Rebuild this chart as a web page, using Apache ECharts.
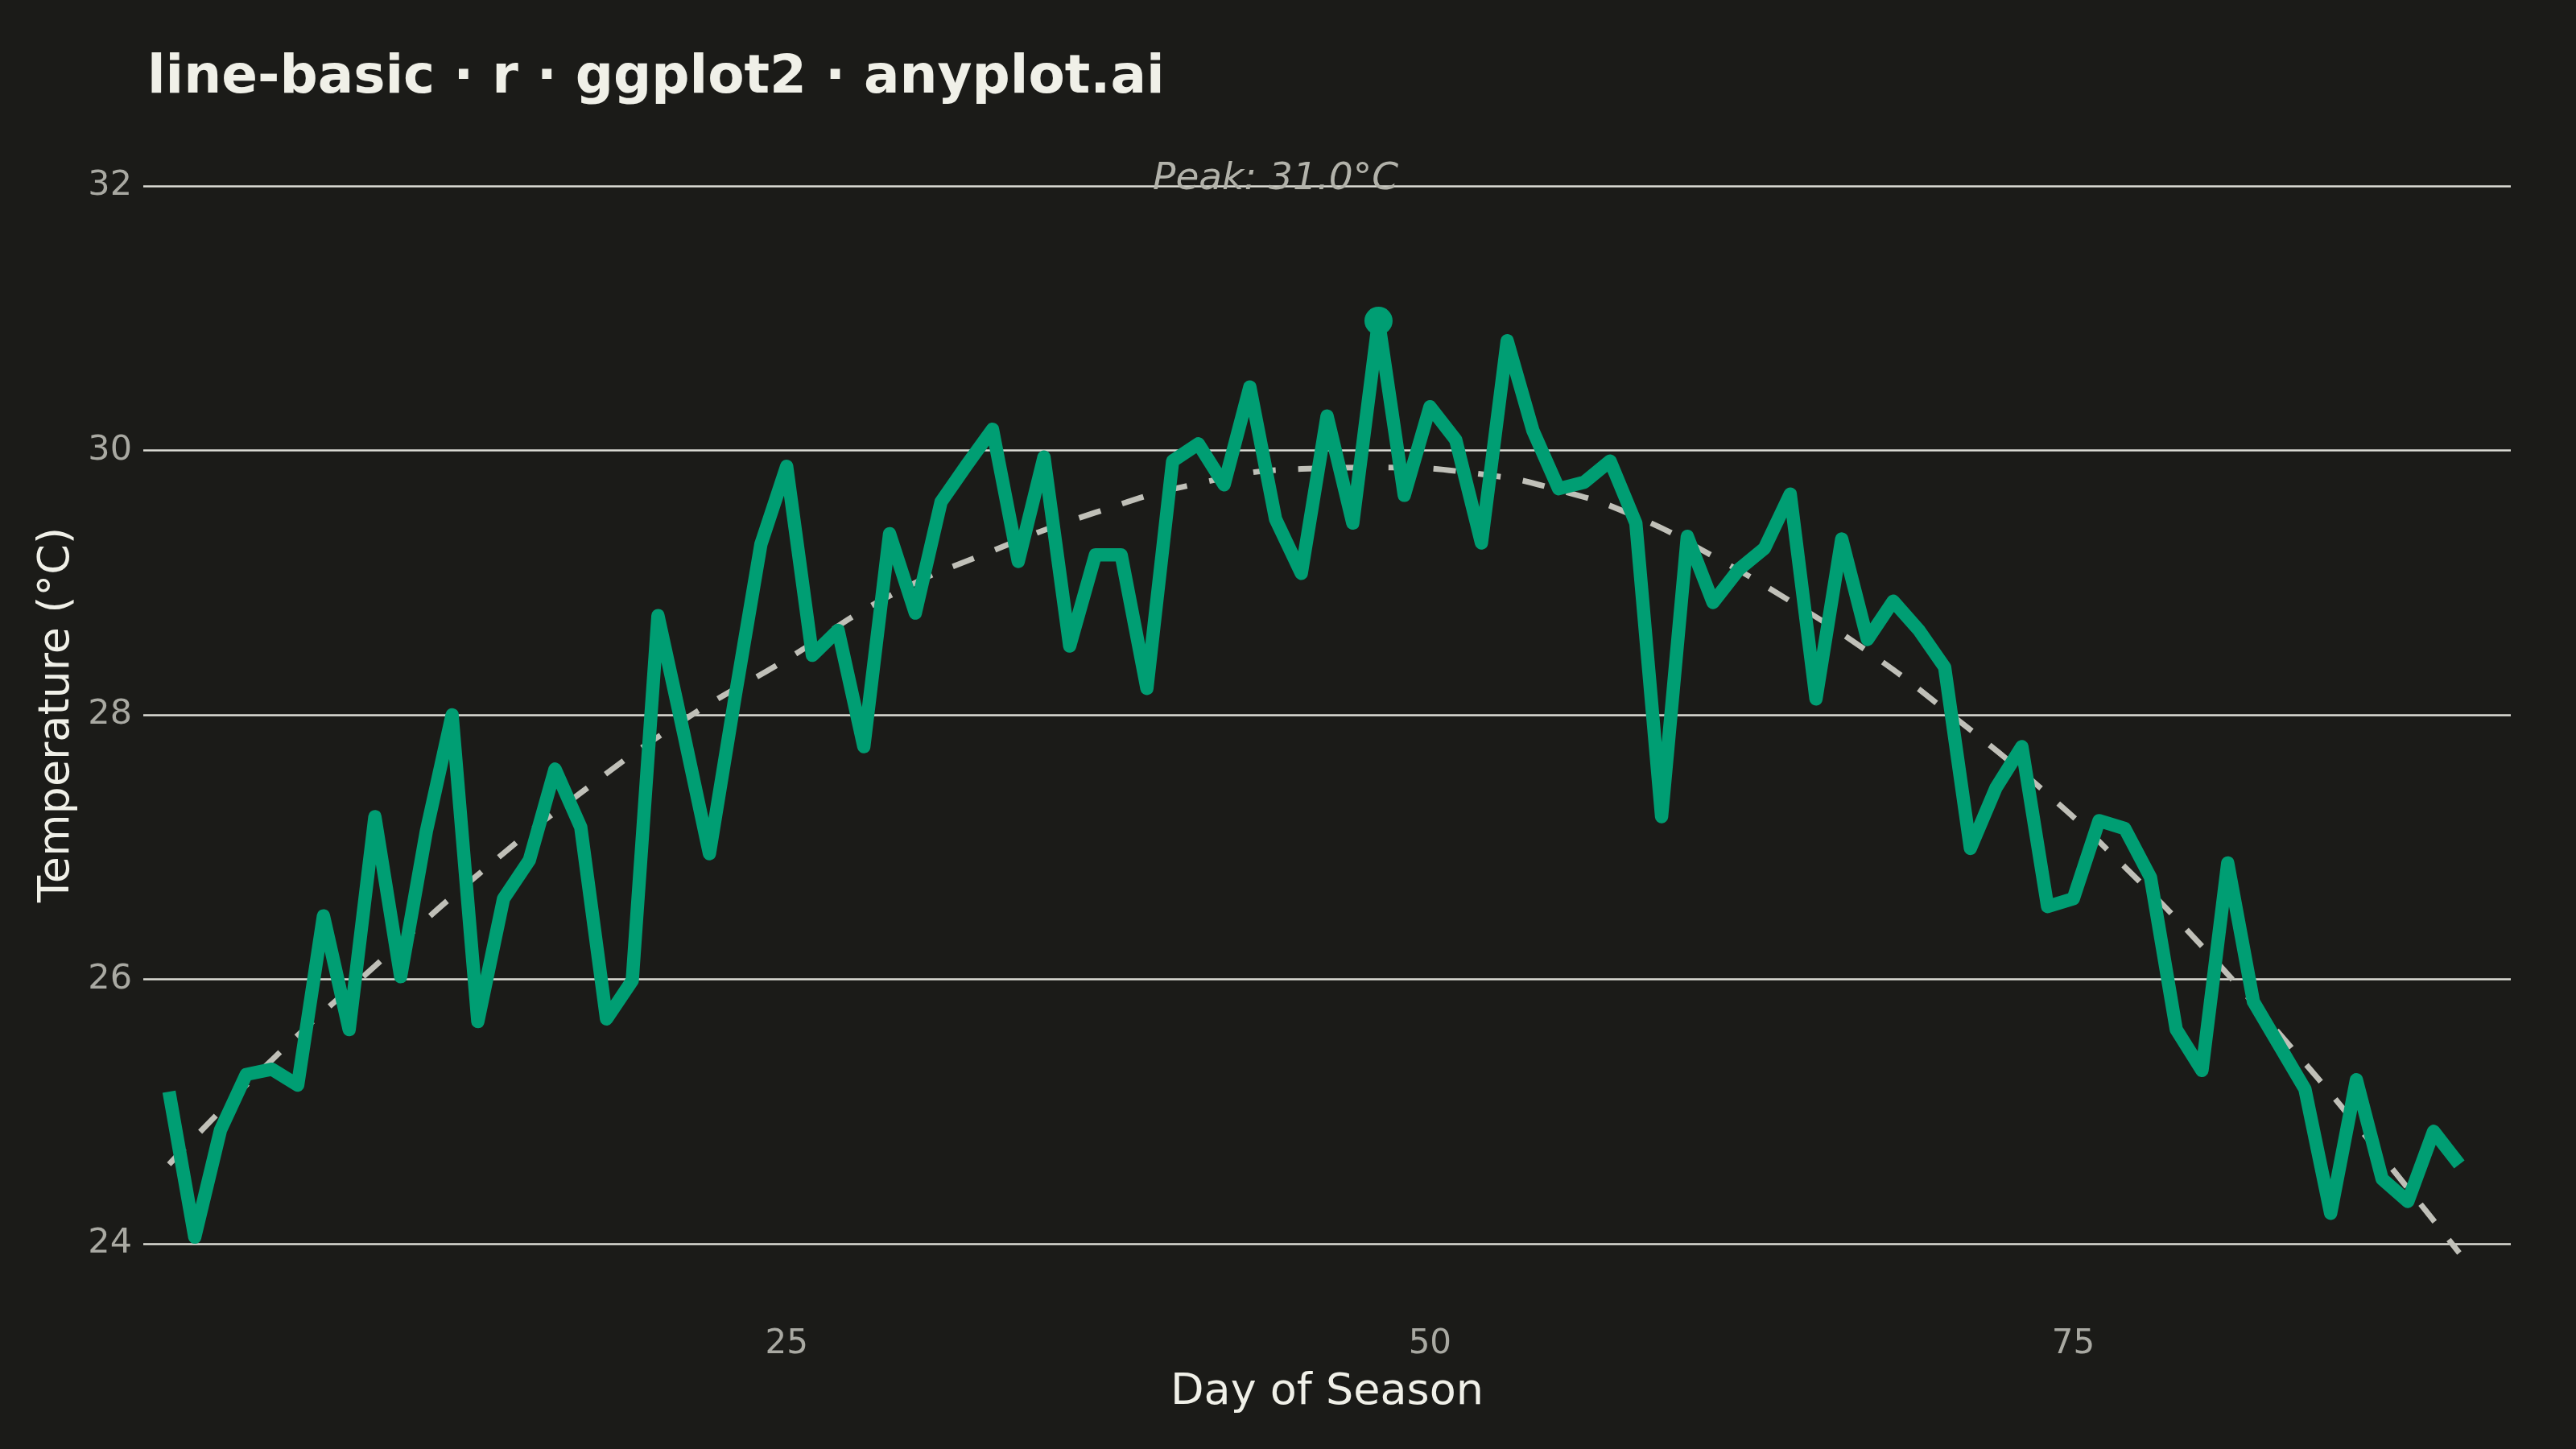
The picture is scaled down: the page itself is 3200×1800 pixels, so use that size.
<!DOCTYPE html>
<html>
<head>
<meta charset="utf-8">
<script src="https://cdn.jsdelivr.net/npm/echarts@6/dist/echarts.min.js"></script>
<style>
  html, body { margin: 0; padding: 0; background: #1b1b18; }
  #main { width: 3200px; height: 1800px; }
</style>
</head>
<body>
<div id="main"></div>
<script>
// daily temperature over the season (day 1..90)
var temps = [
  25.15, 24.05, 24.86, 25.28, 25.32, 25.20, 26.48, 25.62, 27.23, 26.02,
  27.12, 28.00, 25.68, 26.61, 26.90, 27.59, 27.15, 25.70, 25.99, 28.75,
  27.86, 26.95, 28.14, 29.29, 29.88, 28.45, 28.64, 27.76, 29.37, 28.77,
  29.61, 29.89, 30.16, 29.16, 29.95, 28.52, 29.21, 29.21, 28.20, 29.92,
  30.05, 29.74, 30.48, 29.48, 29.07, 30.26, 29.45, 30.98, 29.66, 30.33,
  30.08, 29.30, 30.83, 30.15, 29.71, 29.76, 29.92, 29.45, 27.23, 29.35,
  28.85, 29.10, 29.26, 29.67, 28.12, 29.33, 28.57, 28.86, 28.64, 28.36,
  26.99, 27.45, 27.76, 26.55, 26.61, 27.20, 27.14, 26.77, 25.62, 25.31,
  26.88, 25.83, 25.50, 25.17, 24.23, 25.24, 24.49, 24.32, 24.85, 24.60
];

// smoothed trend
var trendDays = [1, 5, 9, 13, 17, 21, 25, 29, 33, 37, 41, 45, 48, 52, 55, 58, 61, 64, 67, 70, 74, 77, 80, 83, 86, 90];
var trendVals = [24.60, 25.39, 26.10, 26.79, 27.41, 27.96, 28.42, 28.90, 29.24, 29.53, 29.75, 29.86, 29.87,
                 29.82, 29.70, 29.50, 29.20, 28.86, 28.48, 28.04, 27.40, 26.85, 26.25, 25.59, 24.90, 23.93];

var yTicks = [24, 26, 28, 30, 32];
var xTicks = [25, 50, 75];

// peak label sits a little left of the peak, just above the top gridline
var peakLabelDay = 44;
var peakLabelY = 32.05;

var chart = echarts.init(document.getElementById('main'));

var lineData = [];
for (var i = 0; i < temps.length; i++) {
  lineData.push([i + 1, temps[i]]);
}
var trendData = [];
for (var j = 0; j < trendDays.length; j++) {
  trendData.push([trendDays[j], trendVals[j]]);
}
var peakIdx = 0;
for (var k = 1; k < temps.length; k++) {
  if (temps[k] > temps[peakIdx]) peakIdx = k;
}
var peakVal = temps[peakIdx];

var font = 'DejaVu Sans';

option = {
  backgroundColor: '#1b1b18',
  animation: false,
  title: {
    text: 'line-basic · r · ggplot2 · anyplot.ai',
    left: 178,
    top: 60,
    textStyle: {
      color: '#f0f0e8',
      fontFamily: font,
      fontWeight: 'bold',
      fontSize: 66
    }
  },
  grid: {
    left: 178,
    right: 81,
    top: 231,
    bottom: 255
  },
  xAxis: {
    type: 'value',
    min: 0,
    max: 92,
    interval: 25,
    name: 'Day of Season',
    nameLocation: 'middle',
    nameGap: 158,
    nameTextStyle: { color: '#f0f0e8', fontFamily: font, fontSize: 54 },
    axisLine: { show: false },
    axisTick: { show: false },
    splitLine: { show: false },
    axisLabel: {
      color: '#a9a9a2',
      fontFamily: font,
      fontSize: 42,
      margin: 104,
      showMinLabel: false,
      showMaxLabel: false,
      formatter: function (v) { return xTicks.indexOf(v) >= 0 ? String(v) : ''; }
    }
  },
  yAxis: {
    type: 'value',
    min: yTicks[0],
    max: yTicks[yTicks.length - 1],
    interval: 2,
    name: 'Temperature (°C)',
    nameLocation: 'middle',
    nameRotate: 90,
    nameGap: 80,
    nameTextStyle: { color: '#f0f0e8', fontFamily: font, fontSize: 54 },
    axisLine: { show: false },
    axisTick: { show: false },
    axisLabel: {
      color: '#a9a9a2',
      fontFamily: font,
      fontSize: 43,
      margin: 14
    },
    splitLine: {
      show: true,
      lineStyle: { color: '#deded6', width: 2.5 }
    }
  },
  series: [
    {
      name: 'peakLabel',
      type: 'scatter',
      data: [[peakLabelDay, peakLabelY]],
      symbolSize: 2,
      silent: true,
      clip: false,
      itemStyle: { color: 'rgba(0,0,0,0)', opacity: 1 },
      label: {
        show: true,
        position: 'inside',
        formatter: 'Peak: ' + peakVal.toFixed(1) + '°C',
        color: '#b2b2aa',
        fontFamily: font,
        fontStyle: 'italic',
        fontSize: 47
      },
      z: 1
    },
    {
      name: 'trend',
      type: 'line',
      data: trendData,
      smooth: true,
      showSymbol: false,
      clip: false,
      lineStyle: { color: '#c0c0b8', width: 7, type: [28, 28], cap: 'butt' },
      z: 2
    },
    {
      name: 'temperature',
      type: 'line',
      data: lineData,
      showSymbol: false,
      clip: false,
      lineStyle: { color: '#009e73', width: 16.5, cap: 'butt', join: 'round' },
      z: 3
    },
    {
      name: 'peak',
      type: 'scatter',
      data: [[peakIdx + 1, peakVal]],
      symbolSize: 35,
      clip: false,
      itemStyle: { color: '#009e73', opacity: 1 },
      z: 4
    }
  ]
};

chart.setOption(option);
</script>
</body>
</html>
